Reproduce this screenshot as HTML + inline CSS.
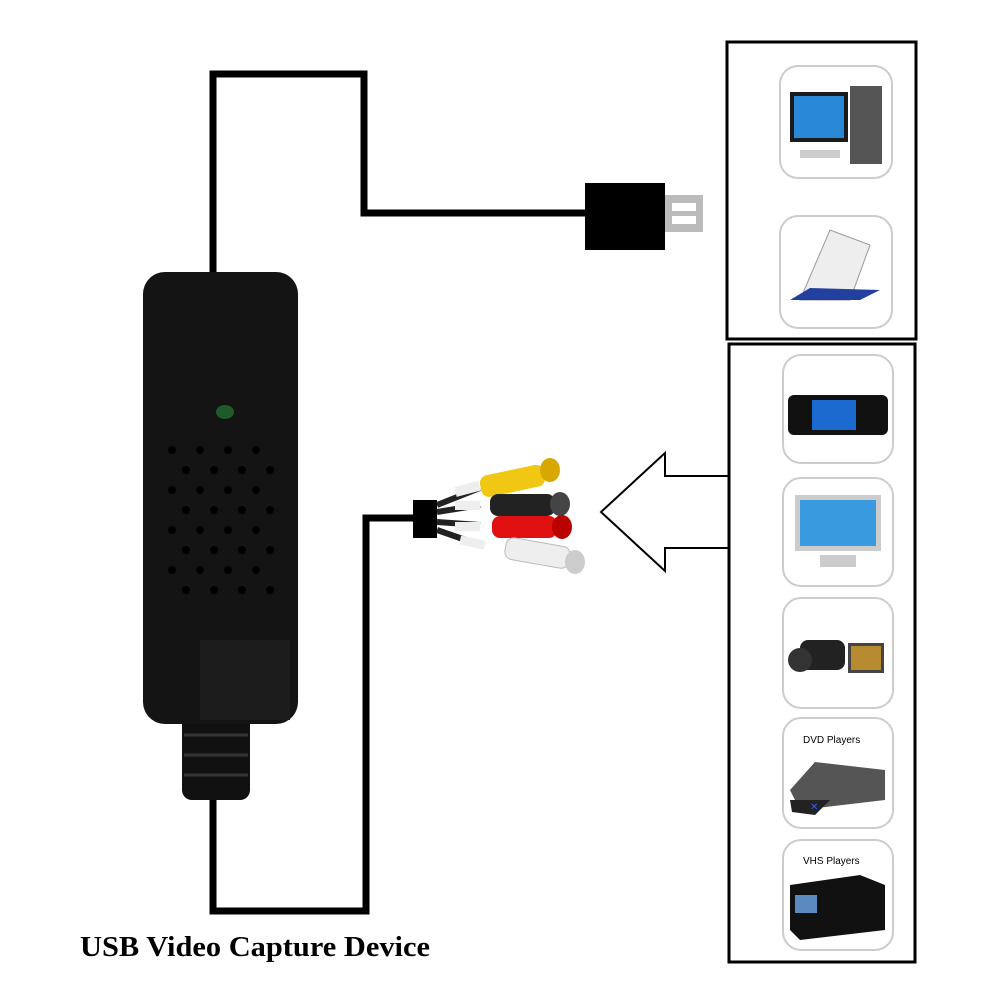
<!DOCTYPE html>
<html><head><meta charset="utf-8"><style>
html,body{margin:0;padding:0;background:#fff;width:1000px;height:1000px;overflow:hidden}
</style></head><body>
<svg width="1000" height="1000" viewBox="0 0 1000 1000" xmlns="http://www.w3.org/2000/svg">
<rect width="1000" height="1000" fill="#fff"/>
<polyline points="213,272 213,74 364,74 364,213 590,213" fill="none" stroke="#000" stroke-width="7"/>
<rect x="585" y="183" width="80" height="67" fill="#000"/>
<rect x="665" y="195" width="38" height="37" fill="#bbb"/>
<rect x="672" y="203" width="24" height="8" fill="#fff"/>
<rect x="672" y="216" width="24" height="8" fill="#fff"/>
<polyline points="213,790 213,911 366,911 366,518 420,518" fill="none" stroke="#000" stroke-width="7"/>
<rect x="182" y="690" width="68" height="110" rx="10" fill="#111"/>
<g stroke="#333" stroke-width="3">
<line x1="184" y1="715" x2="248" y2="715"/><line x1="184" y1="735" x2="248" y2="735"/>
<line x1="184" y1="755" x2="248" y2="755"/><line x1="184" y1="775" x2="248" y2="775"/></g>
<rect x="143" y="272" width="155" height="452" rx="22" fill="#141414"/>
<rect x="200" y="640" width="90" height="80" fill="#1c1c1c"/>
<ellipse cx="225" cy="412" rx="9" ry="7" fill="#1f5a2a"/>
<g fill="#000">
<circle cx="172" cy="450" r="4"/><circle cx="200" cy="450" r="4"/><circle cx="228" cy="450" r="4"/><circle cx="256" cy="450" r="4"/>
<circle cx="186" cy="470" r="4"/><circle cx="214" cy="470" r="4"/><circle cx="242" cy="470" r="4"/><circle cx="270" cy="470" r="4"/>
<circle cx="172" cy="490" r="4"/><circle cx="200" cy="490" r="4"/><circle cx="228" cy="490" r="4"/><circle cx="256" cy="490" r="4"/>
<circle cx="186" cy="510" r="4"/><circle cx="214" cy="510" r="4"/><circle cx="242" cy="510" r="4"/><circle cx="270" cy="510" r="4"/>
<circle cx="172" cy="530" r="4"/><circle cx="200" cy="530" r="4"/><circle cx="228" cy="530" r="4"/><circle cx="256" cy="530" r="4"/>
<circle cx="186" cy="550" r="4"/><circle cx="214" cy="550" r="4"/><circle cx="242" cy="550" r="4"/><circle cx="270" cy="550" r="4"/>
<circle cx="172" cy="570" r="4"/><circle cx="200" cy="570" r="4"/><circle cx="228" cy="570" r="4"/><circle cx="256" cy="570" r="4"/>
<circle cx="186" cy="590" r="4"/><circle cx="214" cy="590" r="4"/><circle cx="242" cy="590" r="4"/><circle cx="270" cy="590" r="4"/>
</g>
<rect x="413" y="500" width="24" height="38" fill="#000"/>
<g stroke-width="6" fill="none">
<line x1="437" y1="505" x2="480" y2="488" stroke="#222"/>
<line x1="437" y1="512" x2="480" y2="505" stroke="#222"/>
<line x1="437" y1="522" x2="480" y2="525" stroke="#222"/>
<line x1="437" y1="530" x2="480" y2="545" stroke="#222"/>
</g>
<rect x="455" y="484" width="25" height="10" fill="#eee" transform="rotate(-15 467 489)"/>
<rect x="455" y="501" width="25" height="9" fill="#eee"/>
<rect x="455" y="522" width="25" height="9" fill="#eee"/>
<rect x="460" y="538" width="25" height="9" fill="#eee" transform="rotate(12 472 542)"/>
<rect x="480" y="470" width="65" height="22" rx="8" fill="#f0c814" transform="rotate(-12 512 481)"/>
<ellipse cx="550" cy="470" rx="10" ry="12" fill="#d9a800"/>
<rect x="490" y="494" width="65" height="22" rx="8" fill="#222"/>
<ellipse cx="560" cy="504" rx="10" ry="12" fill="#444"/>
<rect x="492" y="516" width="65" height="22" rx="8" fill="#e01010"/>
<ellipse cx="562" cy="527" rx="10" ry="12" fill="#b00"/>
<rect x="505" y="542" width="65" height="22" rx="8" fill="#eee" stroke="#bbb" transform="rotate(10 537 553)"/>
<ellipse cx="575" cy="562" rx="10" ry="12" fill="#ccc"/>
<polygon points="729,476 665,476 665,453 601,512 665,571 665,548 729,548" fill="#fff" stroke="#000" stroke-width="2"/>
<rect x="727" y="42" width="189" height="297" fill="none" stroke="#000" stroke-width="3"/>
<rect x="729" y="344" width="186" height="618" fill="#fff" stroke="#000" stroke-width="3"/>
<g fill="#fff" stroke="#ccc" stroke-width="2">
<rect x="780" y="66" width="112" height="112" rx="18"/>
<rect x="780" y="216" width="112" height="112" rx="18"/>
<rect x="783" y="355" width="110" height="108" rx="18"/>
<rect x="783" y="478" width="110" height="108" rx="18"/>
<rect x="783" y="598" width="110" height="110" rx="18"/>
<rect x="783" y="718" width="110" height="110" rx="18"/>
<rect x="783" y="840" width="110" height="110" rx="18"/>
</g>
<rect x="790" y="92" width="58" height="50" fill="#1a1a1a"/><rect x="794" y="96" width="50" height="42" fill="#2a88d8"/>
<rect x="850" y="86" width="32" height="78" fill="#555"/><rect x="800" y="150" width="40" height="8" fill="#ccc"/>
<polygon points="800,300 830,230 870,245 850,300" fill="#eee" stroke="#999"/><polygon points="790,300 860,300 880,290 810,288" fill="#2240a0"/>
<rect x="788" y="395" width="100" height="40" rx="6" fill="#111"/><rect x="812" y="400" width="44" height="30" fill="#1a6ad0"/>
<rect x="795" y="495" width="86" height="56" fill="#ccc"/><rect x="800" y="500" width="76" height="46" fill="#3a9ae0"/><rect x="820" y="555" width="36" height="12" fill="#ccc"/>
<rect x="800" y="640" width="45" height="30" rx="8" fill="#222"/><circle cx="800" cy="660" r="12" fill="#333"/><rect x="848" y="643" width="36" height="30" fill="#444"/><rect x="851" y="646" width="30" height="24" fill="#b88a30"/>
<text x="803" y="743" font-family="Liberation Sans, sans-serif" font-size="10" fill="#000">DVD Players</text>
<polygon points="790,790 815,762 885,770 885,800 800,810" fill="#555"/><polygon points="790,800 830,800 815,815 792,812" fill="#222"/><text x="810" y="810" font-size="10" fill="#3060ff" font-family="Liberation Sans, sans-serif">✕</text>
<text x="803" y="864" font-family="Liberation Sans, sans-serif" font-size="10" fill="#000">VHS Players</text>
<polygon points="790,885 860,875 885,885 885,930 800,940 790,930" fill="#111"/><rect x="795" y="895" width="22" height="18" fill="#5a8ac0"/>
<text x="80" y="956" font-family="Liberation Serif, serif" font-weight="bold" font-size="29" textLength="350" lengthAdjust="spacingAndGlyphs" fill="#000">USB Video Capture Device</text>
</svg>
</body></html>
